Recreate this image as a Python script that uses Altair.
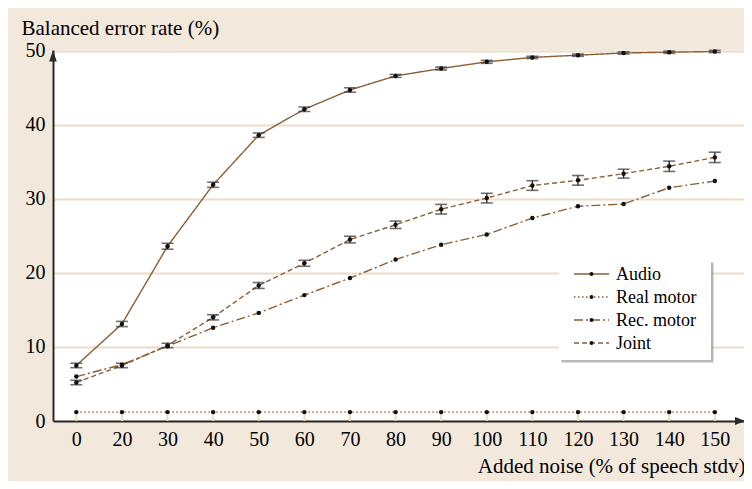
import altair as alt
import pandas as pd

noise_labels = ["0", "20", "30", "40", "50", "60", "70", "80", "90", "100", "110", "120", "130", "140", "150"]
series_names = ["Audio", "Real motor", "Rec. motor", "Joint"]

audio = [7.5, 13.1, 23.6, 31.9, 38.6, 42.1, 44.7, 46.6, 47.6, 48.5, 49.1, 49.4, 49.7, 49.8, 49.9]
audio_err = [0.3, 0.35, 0.4, 0.35, 0.3, 0.3, 0.3, 0.2, 0.2, 0.2, 0.15, 0.15, 0.15, 0.15, 0.15]
real_motor = [1.2, 1.2, 1.2, 1.2, 1.2, 1.2, 1.2, 1.2, 1.2, 1.2, 1.2, 1.2, 1.2, 1.2, 1.2]
rec_motor = [6.0, 7.6, 10.1, 12.6, 14.6, 17.0, 19.3, 21.8, 23.8, 25.2, 27.4, 29.0, 29.3, 31.5, 32.4]
joint = [5.2, 7.5, 10.2, 14.0, 18.3, 21.3, 24.5, 26.5, 28.6, 30.1, 31.8, 32.5, 33.4, 34.4, 35.6]
joint_err = [0.3, 0.3, 0.3, 0.35, 0.4, 0.4, 0.45, 0.5, 0.65, 0.65, 0.65, 0.65, 0.6, 0.7, 0.7]

BROWN = "#8b5e34"
BEIGE_BG = "#f3e8dc"
GRID = "#ecdcc8"
AXIS = "#2a2a2a"
FONT = "Liberation Serif"
dashes = [[1, 0], [1.5, 2.5], [9, 3, 2, 3], [5, 3]]

rows = []
for name, vals, errs in [("Audio", audio, audio_err), ("Real motor", real_motor, None),
                         ("Rec. motor", rec_motor, None), ("Joint", joint, joint_err)]:
    for i, v in enumerate(vals):
        e = errs[i] if errs else None
        rows.append({"idx": i, "label": noise_labels[i], "series": name, "value": v,
                     "lo": v - e if e is not None else None, "hi": v + e if e is not None else None})
df = pd.DataFrame(rows)
df_err = df.dropna(subset=["lo"])
df_x = pd.DataFrame({"idx": list(range(len(noise_labels)))})

label_expr = "[" + ",".join("'%s'" % s for s in noise_labels) + "][datum.value]"

x_enc = alt.X("idx:Q",
              scale=alt.Scale(domain=[-0.511, 14.64], nice=False, zero=False),
              axis=alt.Axis(values=list(range(len(noise_labels))), labelExpr=label_expr,
                            grid=False, ticks=False, domainColor=AXIS, domainWidth=2,
                            labelFont=FONT, labelFontSize=20, labelColor="black",
                            labelBaseline="alphabetic", labelPadding=24,
                            title="Added noise (% of speech stdv)", titleFont=FONT,
                            titleFontSize=21, titleFontWeight="normal", titleColor="black",
                            titleAnchor="end", titleAlign="right", titleX=692, titleY=51,
                            titleBaseline="alphabetic"))
y_enc = alt.Y("value:Q",
              scale=alt.Scale(domain=[0, 50.1], nice=False),
              axis=alt.Axis(values=[0, 10, 20, 30, 40, 50], grid=True, gridColor=GRID,
                            gridWidth=2, ticks=False, domainColor=AXIS, domainWidth=2,
                            labelFont=FONT, labelFontSize=20, labelColor="black",
                            labelPadding=8,
                            title="Balanced error rate (%)", titleFont=FONT, titleFontSize=21,
                            titleFontWeight="normal", titleColor="black", titleAngle=0,
                            titleAlign="left", titleBaseline="alphabetic",
                            titleX=-32, titleY=-16))

xticks = alt.Chart(df_x).mark_rule(color=GRID, strokeWidth=2).encode(
    x=alt.X("idx:Q", scale=alt.Scale(domain=[-0.511, 14.64], nice=False, zero=False)),
    y=alt.value(362), y2=alt.value(371))

lines = alt.Chart(df).mark_line(color=BROWN, strokeWidth=1.4).encode(
    x=x_enc, y=y_enc,
    strokeDash=alt.StrokeDash("series:N", scale=alt.Scale(domain=series_names, range=dashes),
                              legend=None),
    detail="series:N")

err_rule = alt.Chart(df_err).mark_rule(color="#222", strokeWidth=1.3).encode(
    x="idx:Q", y="lo:Q", y2="hi:Q")
cap_lo = alt.Chart(df_err).mark_tick(color="#333", orient="horizontal", size=12, thickness=1.6).encode(
    x="idx:Q", y="lo:Q")
cap_hi = alt.Chart(df_err).mark_tick(color="#333", orient="horizontal", size=12, thickness=1.6).encode(
    x="idx:Q", y="hi:Q")

points = alt.Chart(df).mark_circle(color="#111", size=20, opacity=1).encode(x="idx:Q", y="value:Q")

# axis arrows
arrow_up = alt.Chart(df_x.head(1)).mark_point(
    shape="M0,-1L0.7,1L-0.7,1Z", filled=True, color=AXIS, size=121, opacity=1).encode(
    x=alt.value(0), y=alt.value(6))
arrow_right = alt.Chart(df_x.head(1)).mark_point(
    shape="M1,0L-1,-0.8L-1,0.8Z", filled=True, color=AXIS, size=100, opacity=1).encode(
    x=alt.value(687), y=alt.value(371))

# legend
one = df_x.head(1)
legend_layers = [
    alt.Chart(one).mark_rect(fill="#9a9a9a", opacity=0.35).encode(
        x=alt.value(509), x2=alt.value(661), y=alt.value(213), y2=alt.value(313)),
    alt.Chart(one).mark_rect(fill="#8a8a8a", opacity=0.45).encode(
        x=alt.value(508), x2=alt.value(660), y=alt.value(212), y2=alt.value(312)),
    alt.Chart(one).mark_rect(fill="white").encode(
        x=alt.value(506), x2=alt.value(658), y=alt.value(210), y2=alt.value(310)),
]
for k, name in enumerate(series_names):
    yy = 224 + 23 * k
    legend_layers.append(alt.Chart(one).mark_rule(color=BROWN, strokeWidth=1.4, strokeDash=dashes[k]).encode(
        x=alt.value(521), x2=alt.value(556), y=alt.value(yy)))
    legend_layers.append(alt.Chart(one).mark_circle(color="#111", size=16, opacity=1).encode(
        x=alt.value(538.5), y=alt.value(yy)))
    legend_layers.append(alt.Chart(one).mark_text(text=name, font=FONT, fontSize=18, color="black",
                                                  align="left", baseline="middle").encode(
        x=alt.value(563), y=alt.value(yy + 1)))

chart = alt.layer(xticks, lines, err_rule, cap_lo, cap_hi, points, arrow_up, arrow_right,
                  *legend_layers).properties(
    width=691, height=371,
    padding={"left": 45, "top": 42, "right": 0, "bottom": 60},
    autosize=alt.AutoSizeParams(type="none"),
    background=BEIGE_BG,
).configure_view(fill="white", stroke=None)

chart.save("out.html", embed_options={"renderer": "svg", "actions": False})
